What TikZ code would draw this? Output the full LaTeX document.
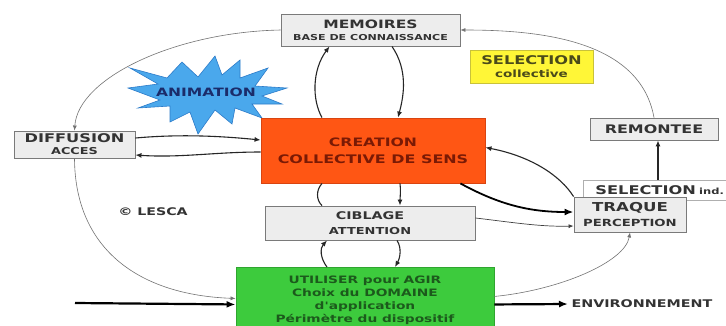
\documentclass[tikz,border=0pt]{standalone}
\usepackage{fontspec}
\setmainfont{DejaVu Sans}
\newfontfamily\wideb[FakeStretch=1.35]{DejaVu Sans Bold}
\usetikzlibrary{arrows.meta,calc}

\definecolor{boxfill}{HTML}{EDEDED}
\definecolor{boxline}{HTML}{7A7A7A}
\definecolor{boxtext}{HTML}{333333}
\definecolor{creafill}{HTML}{FF5614}
\definecolor{crealine}{HTML}{D94410}
\definecolor{creatext}{HTML}{7A1A05}
\definecolor{utilfill}{HTML}{3DCB3D}
\definecolor{utilline}{HTML}{2FA52F}
\definecolor{utiltext}{HTML}{1C5A1C}
\definecolor{selfill}{HTML}{FFF637}
\definecolor{selline}{HTML}{C9C23A}
\definecolor{seltext}{HTML}{4A4A1A}
\definecolor{starfill}{HTML}{4AA8EC}
\definecolor{starline}{HTML}{2C7BC9}
\definecolor{startext}{HTML}{1B2C6A}

\tikzset{
  gbox/.style={draw=boxline, line width=0.9pt, fill=boxfill, inner sep=0pt,
    align=center, text=boxtext, font=\wideb},
  lnk/.style={draw=black!75, line width=0.7pt, -{Latex[length=5pt,width=4pt]}},
  thinlnk/.style={draw=black!55, line width=0.6pt, -{Latex[length=5pt,width=4pt]}},
  medlnk/.style={draw=black!85, line width=1.1pt, -{Latex[length=6pt,width=5pt]}},
  thicklnk/.style={draw=black, line width=2.2pt, -{Latex[length=9pt,width=7pt]}},
}
\newcommand{\fsz}[2]{{\fontsize{#1}{#1}\selectfont #2}}

\begin{document}
\begin{tikzpicture}[x=1pt,y=-1pt]
\useasboundingbox (0,0) rectangle (726,325);
\fill[white] (0,0) rectangle (726,325);

% starburst behind the central box
\draw[fill=starfill, draw=starline, line width=0.6pt]
  (128,88) -- (158,84) -- (130,68) -- (167,78) -- (182,62) -- (198,77)
  -- (215,56) -- (222,75) -- (240,60) -- (240,78) -- (268,68) -- (255,86)
  -- (287,88) -- (262,96) -- (282,104) -- (252,104) -- (262,118) -- (235,108)
  -- (232,124) -- (215,110) -- (198,134) -- (190,112) -- (170,122) -- (170,106)
  -- (138,108) -- (160,100) -- cycle;
\node[text=startext, font=\wideb\fontsize{11.5}{13}\selectfont] (anim) at (206,92) {ANIMATION};

% boxes
\node[gbox, minimum width=179pt, minimum height=32pt] (mem) at (370.5,30)
  {\fsz{11.5}{MEMOIRES}\\[0pt]\fsz{8.2}{BASE DE CONNAISSANCE}};
\node[gbox, fill=selfill, draw=selline, text=seltext, minimum width=123pt, minimum height=33pt] (selc) at (531.5,66.5)
  {\fsz{12}{SELECTION}\\[1pt]\fsz{10}{collective}};
\node[gbox, minimum width=121pt, minimum height=27pt] (diff) at (74.5,144.5)
  {\fsz{12}{DIFFUSION}\\[0pt]\fsz{9.5}{ACCES}};
\node[gbox, fill=creafill, draw=crealine, text=creatext, minimum width=224pt, minimum height=65pt] (crea) at (373,150.5)
  {\fsz{11.6}{CREATION}\\[5pt]\fsz{11.8}{COLLECTIVE DE SENS}};
\node[gbox, minimum width=128pt, minimum height=22pt] (rem) at (654,129)
  {\fsz{11.8}{REMONTEE}};
\node[gbox, fill=white, draw=boxline!60, anchor=west, inner xsep=12pt, text width=133pt, align=left,
  minimum height=20pt] (seli) at (583,190)
  {\fsz{12}{SELECTION} \fsz{8.5}{ind.}};
\node[gbox, minimum width=112pt, minimum height=35pt] (traq) at (630,214.5)
  {\fsz{12.3}{TRAQUE}\\[3pt]\fsz{9.8}{PERCEPTION}};
\node[gbox, minimum width=210pt, minimum height=34pt] (cib) at (370,223)
  {\fsz{10.6}{CIBLAGE}\\[3pt]\fsz{9.6}{ATTENTION}};
\node[gbox, fill=utilfill, draw=utilline, text=utiltext, minimum width=258pt, minimum height=66pt,
  anchor=north, font=\wideb\fontsize{10.2}{13}\selectfont] (util) at (365,267)
  {UTILISER pour AGIR\\Choix du DOMAINE\\d'application\\Périmètre du dispositif};

% free labels
\node[text=boxtext, font=\wideb\fontsize{10.5}{12}\selectfont] (lesca) at (153,212) {© LESCA};
\node[text=boxtext, anchor=west, font=\wideb\fontsize{10.6}{12}\selectfont] (env) at (568,304) {ENVIRONNEMENT};
\coordinate (entry) at (75,303);

% outer loop
\draw[thinlnk] (mem.west) .. controls (175,32) and (78,78) .. (diff.north);
\draw[thinlnk] (diff.south) .. controls (75,250) and (140,295) .. ([yshift=2pt]util.west);
\draw[thinlnk] (rem.north) .. controls (640,40) and (540,30) .. (mem.east);
\draw[medlnk] ([xshift=4pt]rem.south |- seli.north) -- ([xshift=4pt]rem.south);

% input / output of action
\draw[thicklnk] (entry) -- ([yshift=-4pt]util.west);
\draw[thicklnk] ([yshift=-4pt]util.east) -- (env.west);
\draw[thinlnk] ([yshift=4pt]util.east) .. controls (560,290) and (625,262) .. (traq.south);

% diffusion exchanges
\draw[medlnk] ([yshift=6.5pt]diff.east) .. controls (180,134) and (220,136) .. ([yshift=10.5pt]crea.west);
\draw[medlnk] ([yshift=-1.5pt]crea.west) .. controls (215,152) and (180,158) .. ([yshift=-10.5pt]diff.east);

% memory exchanges
\draw[medlnk] ([xshift=-51pt]crea.north) .. controls (312,100) and (312,70) .. ([xshift=-41pt]mem.south);
\draw[medlnk] ([xshift=21.5pt]mem.south) .. controls (408,70) and (404,95) .. ([xshift=25pt]crea.north);

% targeting exchanges
\draw[medlnk, -] ([xshift=-51pt]crea.south) .. controls (316,190) and (316,200) .. ([xshift=-48pt]cib.north);
\draw[medlnk] ([xshift=27pt]crea.south) .. controls (401,190) and (400,198) .. ([xshift=30pt]cib.north);
\draw[medlnk] ([xshift=-38pt]util.north) .. controls (320,258) and (320,248) .. ([xshift=-43pt]cib.south);
\draw[medlnk] ([xshift=27pt]cib.south) .. controls (402,248) and (400,258) .. ([xshift=30pt]util.north);

% perception exchanges
\draw[medlnk] (traq.north west) .. controls (560,175) and (530,156) .. ([yshift=3pt]crea.east);
\draw[thicklnk, line width=1.8pt] ([xshift=-25pt]crea.south east) .. controls (500,205) and (530,212) .. ([yshift=2.5pt]traq.west);
\draw[lnk] ([yshift=5pt]cib.east) .. controls (510,222) and (540,227) .. ([yshift=-11.5pt]traq.west);
\end{tikzpicture}
\end{document}
